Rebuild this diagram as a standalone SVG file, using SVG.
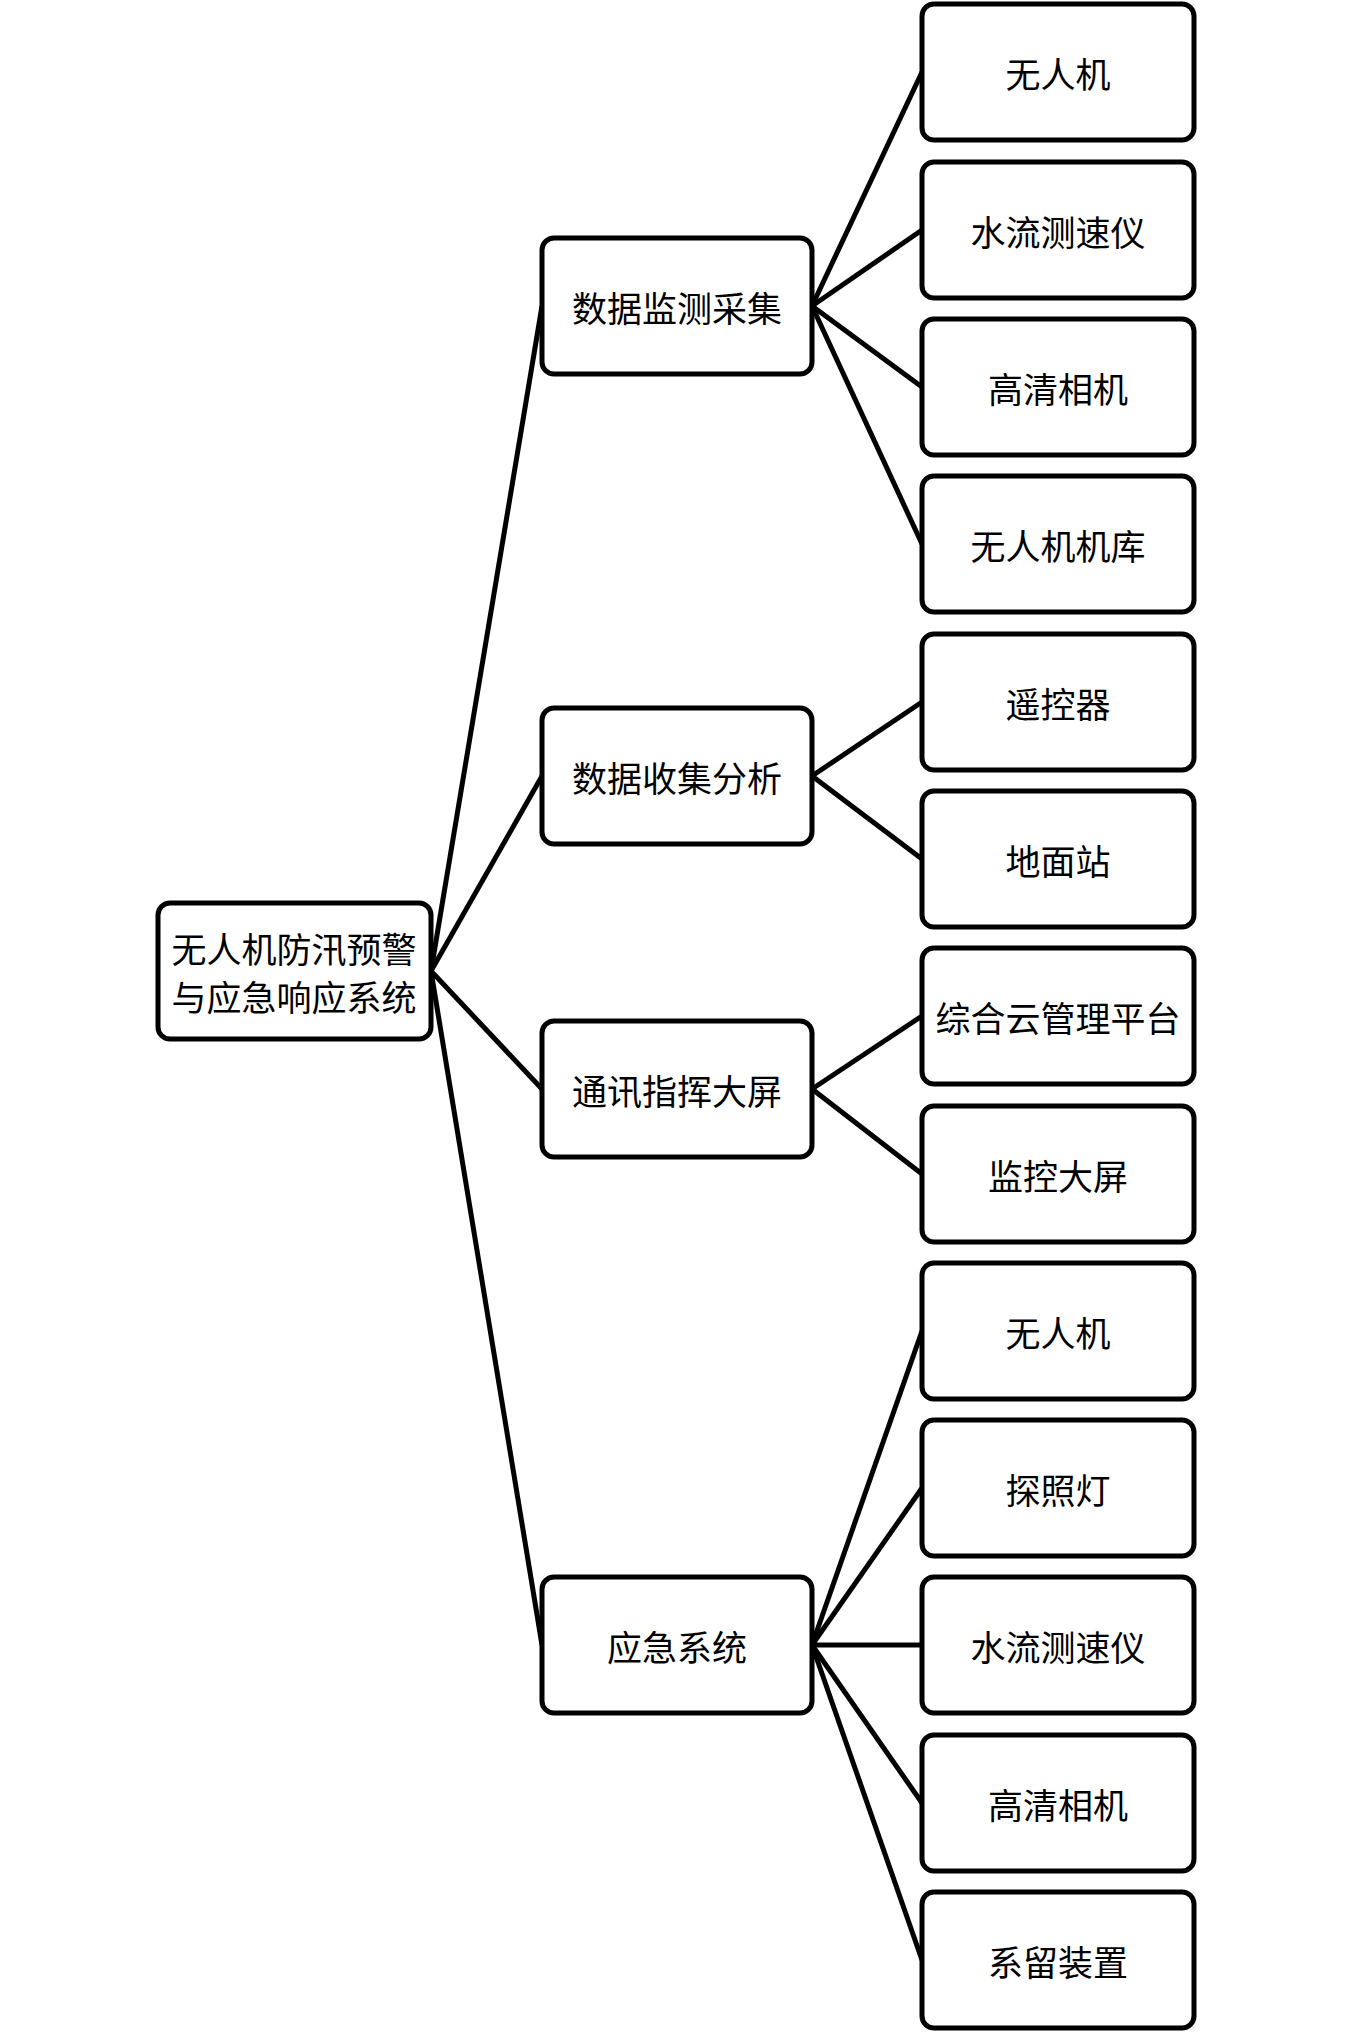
<svg xmlns="http://www.w3.org/2000/svg" width="1351" height="2032" viewBox="0 0 1351 2032">
<style>
rect{fill:#fff;stroke:#000;stroke-width:5}
text{font-family:"Noto Sans CJK SC",sans-serif;font-size:35px;fill:#000;text-anchor:middle;dominant-baseline:central}
#connectors line{stroke:#000;stroke-width:5}
</style>
<rect x="0" y="0" width="1351" height="2032" style="stroke:none"/>
<g id="connectors">
<line x1="431" y1="971" x2="542" y2="306"/>
<line x1="431" y1="971" x2="542" y2="776"/>
<line x1="431" y1="971" x2="542" y2="1089"/>
<line x1="431" y1="971" x2="542" y2="1645"/>
<line x1="812" y1="306" x2="922" y2="72"/>
<line x1="812" y1="306" x2="922" y2="230"/>
<line x1="812" y1="306" x2="922" y2="387"/>
<line x1="812" y1="306" x2="922" y2="544"/>
<line x1="812" y1="776" x2="922" y2="702"/>
<line x1="812" y1="776" x2="922" y2="859"/>
<line x1="812" y1="1089" x2="922" y2="1016"/>
<line x1="812" y1="1089" x2="922" y2="1174"/>
<line x1="812" y1="1645" x2="922" y2="1331"/>
<line x1="812" y1="1645" x2="922" y2="1488"/>
<line x1="812" y1="1645" x2="922" y2="1645"/>
<line x1="812" y1="1645" x2="922" y2="1803"/>
<line x1="812" y1="1645" x2="922" y2="1960"/>
</g>
<g id="root"><rect x="158" y="903" width="273" height="136" rx="12"/><text x="294" y="947" font-size="34">无人机防汛预警</text><text x="294" y="995" font-size="34">与应急响应系统</text></g>
<g id="n1"><rect x="542" y="238" width="270" height="136" rx="12"/><text x="677" y="306">数据监测采集</text></g>
<g id="n2"><rect x="542" y="708" width="270" height="136" rx="12"/><text x="677" y="776">数据收集分析</text></g>
<g id="n3"><rect x="542" y="1021" width="270" height="136" rx="12"/><text x="677" y="1089">通讯指挥大屏</text></g>
<g id="n4"><rect x="542" y="1577" width="270" height="136" rx="12"/><text x="677" y="1645">应急系统</text></g>
<g id="l1"><rect x="922" y="4" width="272" height="136" rx="12"/><text x="1058" y="72">无人机</text></g>
<g id="l2"><rect x="922" y="162" width="272" height="136" rx="12"/><text x="1058" y="230">水流测速仪</text></g>
<g id="l3"><rect x="922" y="319" width="272" height="136" rx="12"/><text x="1058" y="387">高清相机</text></g>
<g id="l4"><rect x="922" y="476" width="272" height="136" rx="12"/><text x="1058" y="544">无人机机库</text></g>
<g id="l5"><rect x="922" y="634" width="272" height="136" rx="12"/><text x="1058" y="702">遥控器</text></g>
<g id="l6"><rect x="922" y="791" width="272" height="136" rx="12"/><text x="1058" y="859">地面站</text></g>
<g id="l7"><rect x="922" y="948" width="272" height="136" rx="12"/><text x="1058" y="1016">综合云管理平台</text></g>
<g id="l8"><rect x="922" y="1106" width="272" height="136" rx="12"/><text x="1058" y="1174">监控大屏</text></g>
<g id="l9"><rect x="922" y="1263" width="272" height="136" rx="12"/><text x="1058" y="1331">无人机</text></g>
<g id="l10"><rect x="922" y="1420" width="272" height="136" rx="12"/><text x="1058" y="1488">探照灯</text></g>
<g id="l11"><rect x="922" y="1577" width="272" height="136" rx="12"/><text x="1058" y="1645">水流测速仪</text></g>
<g id="l12"><rect x="922" y="1735" width="272" height="136" rx="12"/><text x="1058" y="1803">高清相机</text></g>
<g id="l13"><rect x="922" y="1892" width="272" height="136" rx="12"/><text x="1058" y="1960">系留装置</text></g>
</svg>
